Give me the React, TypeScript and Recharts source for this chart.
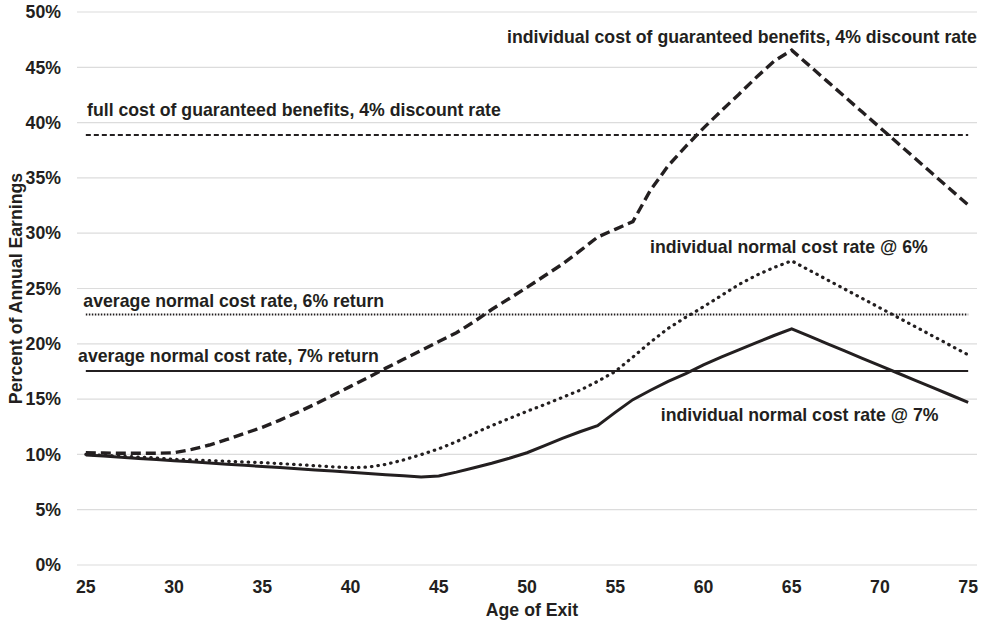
import React from 'react';
import { LineChart, Line, XAxis, YAxis, CartesianGrid, ReferenceLine, ReferenceDot, Label } from 'recharts';

const ages = [25, 26, 27, 28, 29, 30, 31, 32, 33, 34, 35, 36, 37, 38, 39, 40, 41, 42, 43, 44, 45, 46, 47, 48, 49, 50, 51, 52, 53, 54, 55, 56, 57, 58, 59, 60, 61, 62, 63, 64, 65, 66, 67, 68, 69, 70, 71, 72, 73, 74, 75];

const indivCost4 = [10.15, 10.12, 10.1, 10.1, 10.1, 10.15, 10.45, 10.85, 11.35, 11.9, 12.45, 13.1, 13.8, 14.55, 15.35, 16.15, 16.95, 17.8, 18.6, 19.4, 20.2, 21.0, 22.0, 23.1, 24.1, 25.1, 26.15, 27.2, 28.4, 29.65, 30.35, 31.05, 33.9, 36.1, 37.85, 39.5, 41.05, 42.55, 44.1, 45.55, 46.55, 45.15, 43.75, 42.35, 40.95, 39.55, 38.15, 36.75, 35.35, 33.95, 32.55];

const indivNormal6 = [10.0, 9.92, 9.84, 9.76, 9.68, 9.55, 9.5, 9.45, 9.38, 9.32, 9.26, 9.17, 9.08, 8.98, 8.88, 8.8, 8.85, 9.1, 9.5, 9.98, 10.5, 11.15, 11.9, 12.6, 13.25, 13.9, 14.5, 15.15, 15.8, 16.6, 17.5, 18.8, 20.15, 21.4, 22.4, 23.35, 24.35, 25.35, 26.2, 26.9, 27.5, 26.65, 25.8, 24.95, 24.1, 23.25, 22.4, 21.55, 20.7, 19.85, 19.0];

const indivNormal7 = [9.95, 9.85, 9.74, 9.64, 9.53, 9.43, 9.33, 9.22, 9.12, 9.01, 8.91, 8.81, 8.7, 8.6, 8.49, 8.39, 8.28, 8.17, 8.06, 7.96, 8.05, 8.4, 8.8, 9.2, 9.65, 10.15, 10.8, 11.45, 12.05, 12.6, 13.8, 14.95, 15.8, 16.6, 17.3, 18.1, 18.8, 19.45, 20.1, 20.75, 21.35, 20.69, 20.02, 19.36, 18.69, 18.03, 17.36, 16.7, 16.03, 15.37, 14.7];

const fullCost4 = 38.87;
const avgNormal6 = 22.65;
const avgNormal7 = 17.55;

const yTicks = [0, 5, 10, 15, 20, 25, 30, 35, 40, 45, 50];
const xTicks = [25, 30, 35, 40, 45, 50, 55, 60, 65, 70, 75];

const annotations = [
  { text: 'individual cost of guaranteed benefits, 4% discount rate', age: 48.87, pct: 47.77 },
  { text: 'full cost of guaranteed benefits, 4% discount rate', age: 25.07, pct: 41.14 },
  { text: 'average normal cost rate, 6% return', age: 24.86, pct: 23.87 },
  { text: 'average normal cost rate, 7% return', age: 24.56, pct: 18.9 },
  { text: 'individual normal cost rate @ 6%', age: 56.97, pct: 28.78 },
  { text: 'individual normal cost rate @ 7%', age: 57.58, pct: 13.56 },
];

const rows = ages.map((age, i) => ({
  age,
  indivCost4: indivCost4[i],
  indivNormal6: indivNormal6[i],
  indivNormal7: indivNormal7[i],
}));

const INK = '#231f20';
const FONT = '"Liberation Sans", Arial, sans-serif';
const FS = 17.7;

const tickStyle = { fontFamily: FONT, fontSize: FS, fontWeight: 700, fill: INK };

export default function App() {
  return (
    <div style={{ position: 'absolute', left: 0, top: 0, width: 984, height: 625, background: '#fff' }}>
      <LineChart width={984} height={625} data={rows} margin={{ top: 12, right: 7, left: 0, bottom: 0 }}>
        <CartesianGrid vertical={false} stroke="#dcdcdc" strokeWidth={1.2} />
        <XAxis
          dataKey="age"
          type="number"
          domain={[24.5, 75.5]}
          ticks={xTicks}
          axisLine={false}
          tickLine={false}
          tickSize={0}
          tickMargin={15}
          height={60}
          tick={tickStyle}
        >
          <Label
            value="Age of Exit"
            position="insideBottom"
            offset={9}
            dx={5}
            style={{ fontFamily: FONT, fontSize: FS, fontWeight: 700, fill: INK }}
          />
        </XAxis>
        <YAxis
          type="number"
          domain={[0, 50]}
          ticks={yTicks}
          interval={0}
          axisLine={false}
          tickLine={false}
          tickSize={0}
          tickMargin={16}
          width={77}
          tick={tickStyle}
          tickFormatter={(v: number) => `${v}%`}
        >
          <Label
            value="Percent of Annual Earnings"
            position="insideLeft"
            angle={-90}
            offset={16}
            style={{ fontFamily: FONT, fontSize: FS, fontWeight: 700, fill: INK, textAnchor: 'middle' }}
          />
        </YAxis>

        <ReferenceLine
          segment={[{ x: 25, y: fullCost4 }, { x: 75, y: fullCost4 }]}
          stroke={INK}
          strokeWidth={2}
          strokeDasharray="5 3"
        />
        <ReferenceLine
          segment={[{ x: 25, y: avgNormal6 }, { x: 75, y: avgNormal6 }]}
          stroke={INK}
          strokeWidth={1.8}
          strokeDasharray="1.5 1.5"
        />
        <ReferenceLine
          segment={[{ x: 25, y: avgNormal7 }, { x: 75, y: avgNormal7 }]}
          stroke={INK}
          strokeWidth={2}
        />

        <Line
          type="linear"
          dataKey="indivNormal7"
          stroke={INK}
          strokeWidth={3}
          dot={false}
          activeDot={false}
          isAnimationActive={false}
        />
        <Line
          type="linear"
          dataKey="indivNormal6"
          stroke={INK}
          strokeWidth={3.2}
          strokeDasharray="0.5 6"
          strokeLinecap="round"
          dot={false}
          activeDot={false}
          isAnimationActive={false}
        />
        <Line
          type="linear"
          dataKey="indivCost4"
          stroke={INK}
          strokeWidth={3.4}
          strokeDasharray="10 5"
          dot={false}
          activeDot={false}
          isAnimationActive={false}
        />

        {annotations.map((a) => (
          <ReferenceDot
            key={a.text}
            x={a.age}
            y={a.pct}
            r={0}
            ifOverflow="visible"
            shape={(p: any) => (
              <text
                x={p.cx}
                y={p.cy}
                dominantBaseline="central"
                textAnchor="start"
                style={{ fontFamily: FONT, fontSize: FS, fontWeight: 700, fill: INK }}
              >
                {a.text}
              </text>
            )}
          />
        ))}
      </LineChart>
    </div>
  );
}
